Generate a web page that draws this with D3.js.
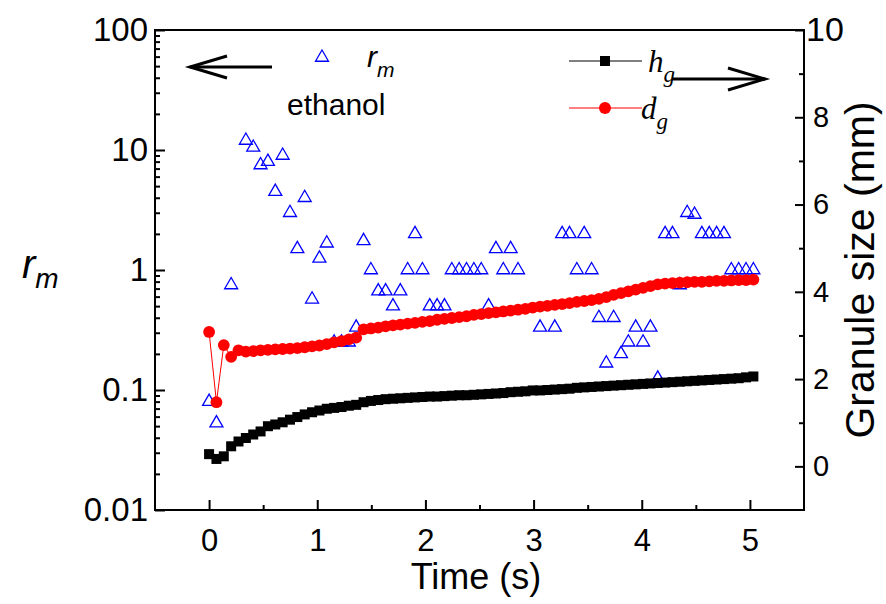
<!DOCTYPE html>
<html>
<head>
<meta charset="utf-8">
<script src="https://cdn.jsdelivr.net/npm/d3@7"></script>
<style>
  body { margin: 0; background: #fff; }
  text { font-family: Arial, "Liberation Sans", sans-serif; fill: #000; }
  .serif { font-family: "Times New Roman", "Liberation Serif", serif; font-style: italic; }
</style>
</head>
<body>
<svg id="chart" width="886" height="604"></svg>
<script>
// frame times (s) shared by h_g and d_g
const frameTimes = [
  0, 0.068, 0.136, 0.204, 0.272, 0.34, 0.408, 0.476, 0.544, 0.612,
  0.68, 0.748, 0.816, 0.884, 0.952, 1.02, 1.088, 1.156, 1.224, 1.292,
  1.36, 1.428, 1.496, 1.564, 1.632, 1.7, 1.768, 1.836, 1.904, 1.972,
  2.04, 2.108, 2.176, 2.244, 2.312, 2.38, 2.448, 2.516, 2.584, 2.652,
  2.72, 2.788, 2.856, 2.924, 2.992, 3.06, 3.128, 3.196, 3.264, 3.332,
  3.4, 3.468, 3.536, 3.604, 3.672, 3.74, 3.808, 3.876, 3.944, 4.012,
  4.08, 4.148, 4.216, 4.284, 4.352, 4.42, 4.488, 4.556, 4.624, 4.692,
  4.76, 4.828, 4.896, 4.964, 5.032
];

// h_g (mm), right axis
const hgValues = [
  0.28, 0.17, 0.23, 0.46, 0.57, 0.65, 0.73, 0.80, 0.92, 0.96,
  1.01, 1.07, 1.13, 1.19, 1.24, 1.28, 1.32, 1.34, 1.36, 1.39,
  1.41, 1.47, 1.50, 1.52, 1.54, 1.55, 1.56, 1.57, 1.58, 1.59,
  1.60, 1.60, 1.61, 1.62, 1.63, 1.63, 1.64, 1.65, 1.66, 1.67,
  1.68, 1.70, 1.71, 1.72, 1.74, 1.74, 1.75, 1.76, 1.77, 1.78,
  1.80, 1.81, 1.82, 1.83, 1.84, 1.85, 1.86, 1.87, 1.88, 1.89,
  1.90, 1.91, 1.92, 1.93, 1.94, 1.95, 1.96, 1.97, 1.98, 1.99,
  2.00, 2.01, 2.02, 2.04, 2.06
];

// d_g (mm), right axis
const dgValues = [
  3.08, 1.47, 2.78, 2.51, 2.66, 2.63, 2.64, 2.66, 2.67, 2.68,
  2.69, 2.70, 2.71, 2.73, 2.75, 2.77, 2.80, 2.84, 2.87, 2.91,
  2.95, 3.14, 3.16, 3.18, 3.21, 3.23, 3.25, 3.27, 3.29, 3.31,
  3.33, 3.36, 3.38, 3.40, 3.42, 3.44, 3.47, 3.49, 3.51, 3.53,
  3.55, 3.57, 3.59, 3.61, 3.64, 3.66, 3.68, 3.70, 3.72, 3.74,
  3.77, 3.79, 3.81, 3.84, 3.88, 3.93, 3.97, 4.01, 4.05, 4.09,
  4.13, 4.17, 4.19, 4.20, 4.21, 4.22, 4.23, 4.23, 4.24, 4.25,
  4.25, 4.26, 4.27, 4.27, 4.28
];

// r_m (ethanol), left log axis
const rmTimes = [
  0, 0.068, 0.204, 0.34, 0.408, 0.476, 0.544, 0.612, 0.68, 0.748,
  0.816, 0.884, 0.952, 1.02, 1.088, 1.156, 1.224, 1.292, 1.36, 1.428,
  1.496, 1.564, 1.632, 1.7, 1.768, 1.836, 1.904, 1.972, 2.04, 2.108,
  2.176, 2.244, 2.312, 2.38, 2.448, 2.516, 2.584, 2.652, 2.72, 2.788,
  2.856, 3.06, 3.196, 3.264, 3.332, 3.4, 3.468, 3.536, 3.604, 3.672,
  3.74, 3.808, 3.876, 3.944, 4.012, 4.08, 4.148, 4.216, 4.284, 4.352,
  4.42, 4.488, 4.556, 4.624, 4.692, 4.76, 4.828, 4.896, 4.964, 5.032
];
const rmValues = [
  0.08, 0.053, 0.75, 12, 10.5, 7.5, 8, 4.5, 9, 3,
  1.5, 4, 0.57, 1.25, 1.67, 0.25, 0.25, 0.25, 0.333, 1.75,
  1, 0.667, 0.667, 0.5, 0.667, 1, 2, 1, 0.5, 0.5,
  0.5, 1, 1, 1, 1, 1, 0.5, 1.5, 1, 1.5,
  1, 0.333, 0.333, 2, 2, 1, 2, 1, 0.4, 0.167,
  0.4, 0.2, 0.25, 0.333, 0.25, 0.333, 0.125, 2, 2, 0.75,
  3, 2.9, 2, 2, 2, 2, 1, 1, 1, 1
];

const xTicks = [0, 1, 2, 3, 4, 5];
const xMinorTicks = [0.5, 1.5, 2.5, 3.5, 4.5];
const leftTicks = [0.01, 0.1, 1, 10, 100];
const leftTickLabels = ["0.01", "0.1", "1", "10", "100"];
const rightTicks = [0, 2, 4, 6, 8, 10];
const rightMinorTicks = [1, 3, 5, 7, 9];

const svg = d3.select("#chart");
const plot = { left: 155, right: 804, top: 30, bottom: 510 };

const x = d3.scaleLinear().domain([-0.5, 5.5]).range([plot.left, plot.right]);
const yL = d3.scaleLog().domain([0.01, 100]).range([plot.bottom, plot.top]);
const yR = d3.scaleLinear().domain([-1, 10]).range([plot.bottom, plot.top]);

// log minor ticks 2..9 per decade
const leftMinorTicks = [];
[0.01, 0.1, 1, 10].forEach((d) => {
  for (let k = 2; k <= 9; k++) leftMinorTicks.push(d * k);
});

const styleAxis = (g) => {
  g.select(".domain").remove();
  g.selectAll("line").attr("stroke", "#000").attr("stroke-width", 2);
};

// bottom axis
svg.append("g")
  .attr("transform", `translate(0,${plot.bottom})`)
  .call(d3.axisBottom(x).tickValues(xMinorTicks).tickSize(-5).tickFormat(""))
  .call(styleAxis);
svg.append("g")
  .attr("transform", `translate(0,${plot.bottom})`)
  .call(d3.axisBottom(x).tickValues(xTicks).tickSize(-10).tickPadding(19).tickFormat(d3.format("d")))
  .call(styleAxis)
  .selectAll("text").attr("font-size", 31).attr("font-family", null);

// left axis
svg.append("g")
  .attr("transform", `translate(${plot.left},0)`)
  .call(d3.axisLeft(yL).tickValues(leftMinorTicks).tickSize(-5).tickFormat(""))
  .call(styleAxis);
svg.append("g")
  .attr("transform", `translate(${plot.left},0)`)
  .call(d3.axisLeft(yL).tickValues(leftTicks).tickSize(-10).tickPadding(7)
    .tickFormat((d, i) => leftTickLabels[i]))
  .call(styleAxis)
  .selectAll("text").attr("font-size", 33).attr("font-family", null);

// right axis
svg.append("g")
  .attr("transform", `translate(${plot.right},0)`)
  .call(d3.axisRight(yR).tickValues(rightMinorTicks).tickSize(-5).tickFormat(""))
  .call(styleAxis);
svg.append("g")
  .attr("transform", `translate(${plot.right},0)`)
  .call(d3.axisRight(yR).tickValues(rightTicks).tickSize(-9).tickPadding(9).tickFormat(d3.format("d")))
  .call(styleAxis)
  .selectAll("text")
  .attr("font-size", (d) => (d === 10 ? 34 : 29))
  .attr("dx", (d) => (d === 10 ? -7 : 0))
  .attr("font-family", null);

// frame
svg.append("rect")
  .attr("x", plot.left).attr("y", plot.top)
  .attr("width", plot.right - plot.left).attr("height", plot.bottom - plot.top)
  .attr("fill", "none").attr("stroke", "#000").attr("stroke-width", 2);

// r_m triangles
const triangle = d3.symbol(d3.symbolTriangle, 73);
svg.append("g")
  .selectAll("path")
  .data(rmTimes.map((t, i) => [t, rmValues[i]]))
  .join("path")
  .attr("d", triangle)
  .attr("transform", (d) => `translate(${x(d[0])},${yL(d[1])})`)
  .attr("fill", "none")
  .attr("stroke", "#0000ff")
  .attr("stroke-width", 1.3);

// h_g
const hgPoints = frameTimes.map((t, i) => [t, hgValues[i]]);
const dgPoints = frameTimes.map((t, i) => [t, dgValues[i]]);
const lineR = d3.line().x((d) => x(d[0])).y((d) => yR(d[1]));

svg.append("path").attr("d", lineR(hgPoints))
  .attr("fill", "none").attr("stroke", "#000").attr("stroke-width", 1);
svg.append("g")
  .selectAll("rect")
  .data(hgPoints)
  .join("rect")
  .attr("x", (d) => x(d[0]) - 5)
  .attr("y", (d) => yR(d[1]) - 5)
  .attr("width", 10).attr("height", 10)
  .attr("fill", "#000");

// d_g
svg.append("path").attr("d", lineR(dgPoints))
  .attr("fill", "none").attr("stroke", "#ff0000").attr("stroke-width", 1);
svg.append("g")
  .selectAll("circle")
  .data(dgPoints)
  .join("circle")
  .attr("cx", (d) => x(d[0]))
  .attr("cy", (d) => yR(d[1]))
  .attr("r", 5.9)
  .attr("fill", "#ff0000");

// arrows
const arrow = (x1, x2, y, dir) => {
  const g = svg.append("g").attr("fill", "none").attr("stroke", "#000").attr("stroke-width", 3);
  g.append("line").attr("x1", x1).attr("x2", x2).attr("y1", y).attr("y2", y);
  const tip = dir < 0 ? x1 : x2;
  const back = tip - dir * 37;
  g.append("path").attr("d", `M${back},${y - 11}L${tip},${y}L${back},${y + 11}`);
};
arrow(190, 272, 67, -1);
arrow(672, 765, 79, 1);

// left legend
svg.append("path").attr("d", triangle)
  .attr("transform", "translate(322,57.5)")
  .attr("fill", "none").attr("stroke", "#0000ff").attr("stroke-width", 1.3);
const rmLegend = svg.append("text").attr("x", 367).attr("y", 67).attr("font-size", 30);
rmLegend.append("tspan").attr("font-style", "italic").text("r");
rmLegend.append("tspan").attr("font-style", "italic").attr("font-size", 21).attr("dy", 10).text("m");
svg.append("text").attr("x", 287).attr("y", 115).attr("font-size", 30).text("ethanol");

// right legend
const legendRows = [
  { y: 61, color: "#000", shape: "square", main: "h", x: 648 },
  { y: 108, color: "#ff0000", shape: "circle", main: "d", x: 641 }
];
legendRows.forEach((row) => {
  svg.append("line").attr("x1", 569).attr("x2", 642).attr("y1", row.y).attr("y2", row.y)
    .attr("stroke", row.color).attr("stroke-width", 1);
  if (row.shape === "square") {
    svg.append("rect").attr("x", 600).attr("y", row.y - 5).attr("width", 10).attr("height", 10).attr("fill", row.color);
  } else {
    svg.append("circle").attr("cx", 605).attr("cy", row.y).attr("r", 6).attr("fill", row.color);
  }
  const t = svg.append("text").attr("class", "serif").attr("x", row.x).attr("y", row.y + 11).attr("font-size", 31);
  t.append("tspan").text(row.main);
  t.append("tspan").attr("font-size", 23).attr("dy", 10).text("g");
});

// axis titles
svg.append("text").attr("x", 476).attr("y", 589).attr("text-anchor", "middle")
  .attr("font-size", 36).text("Time (s)");
svg.append("text").attr("transform", "translate(874,270) rotate(-90)")
  .attr("text-anchor", "middle").attr("font-size", 41).text("Granule size (mm)");
const yTitle = svg.append("text").attr("x", 22).attr("y", 278).attr("font-size", 40);
yTitle.append("tspan").attr("font-style", "italic").text("r");
yTitle.append("tspan").attr("font-style", "italic").attr("font-size", 28).attr("dy", 10).text("m");
</script>
</body>
</html>
